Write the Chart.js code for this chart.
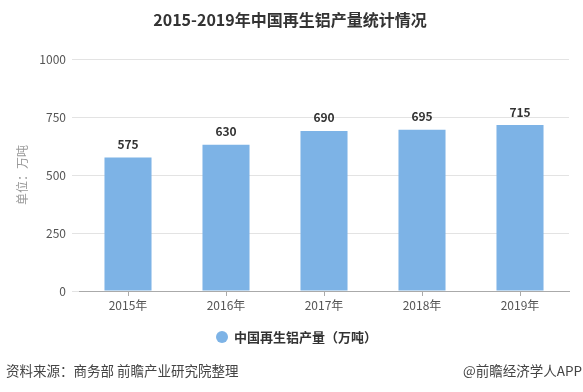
<!DOCTYPE html>
<html>
<head>
<meta charset="utf-8">
<script src="https://cdn.jsdelivr.net/npm/chart.js@4"></script>
<style>
  html, body { margin:0; padding:0; background:#fff; }
  #wrap { width:583px; height:392px; position:relative; }
</style>
</head>
<body>
<div id="wrap"><canvas id="chart" width="583" height="392"></canvas></div>
<script>
const years = ['2015年','2016年','2017年','2018年','2019年'];
const output = [575, 630, 690, 695, 715];
const yTicks = [0, 250, 500, 750, 1000];

const FONT = '"Noto Sans CJK SC", "Noto Sans", sans-serif';
const BAR = '#7db3e6';

// 标题、数值、图例、来源
const extras = {
  id: 'extras',
  afterDraw(chart){
    const c = chart.ctx;
    const meta = chart.getDatasetMeta(0);
    c.save();
    c.textAlign = 'center';
    c.textBaseline = 'middle';
    c.fillStyle = '#333';
    c.font = 'bold 16px ' + FONT;
    c.fillText('2015-2019年中国再生铝产量统计情况', 290, 20);

    c.font = 'bold 12px ' + FONT;
    meta.data.forEach((bar, i) => {
      c.fillText(output[i], bar.x, bar.y - 13);
    });

    c.fillStyle = BAR;
    c.beginPath();
    c.arc(222, 337, 6, 0, Math.PI*2);
    c.fill();
    c.fillStyle = '#333';
    c.textAlign = 'left';
    c.font = 'bold 13px ' + FONT;
    c.fillText('中国再生铝产量（万吨）', 234, 337);

    c.font = '13.5px ' + FONT;
    c.fillStyle = '#444';
    c.fillText('资料来源：商务部 前瞻产业研究院整理', 6, 371);
    c.textAlign = 'right';
    c.fillText('@前瞻经济学人APP', 582, 371);
    c.restore();
  }
};

new Chart(document.getElementById('chart'), {
  type: 'bar',
  data: {
    labels: years,
    datasets: [{ label:'中国再生铝产量（万吨）', data: output, backgroundColor: BAR,
                 barPercentage: 0.96, categoryPercentage: 0.5 }]
  },
  options: {
    responsive: false,
    animation: false,
    layout: { padding: { left: 0, top: 59, right: 14, bottom: 81 } },
    plugins: { legend: { display:false }, tooltip: { enabled:false } },
    scales: {
      x: {
        afterFit: s => { s.height = 20; },
        grid: { offset:false, drawOnChartArea:false, drawTicks:true, tickLength:5, color:'#aaa' },
        border: { color:'#aaa' },
        ticks: { color:'#555', font:{ size:12, family:FONT }, padding:2 }
      },
      y: {
        min: 0, max: 1000,
        afterFit: s => { s.width = 79; },
        afterBuildTicks: s => { s.ticks = yTicks.map(v => ({ value:v })); },
        grid: { color:'#e3e3e3', tickLength:7 },
        border: { display:false },
        ticks: { color:'#555', font:{ size:12, family:FONT }, padding:6, callback: v => String(v) },
        title: { display:true, text:'单位：万吨', color:'#999', font:{ size:12, family:FONT }, padding:{ top:15, bottom:0 } }
      }
    }
  },
  plugins: [extras]
});
</script>
</body>
</html>
